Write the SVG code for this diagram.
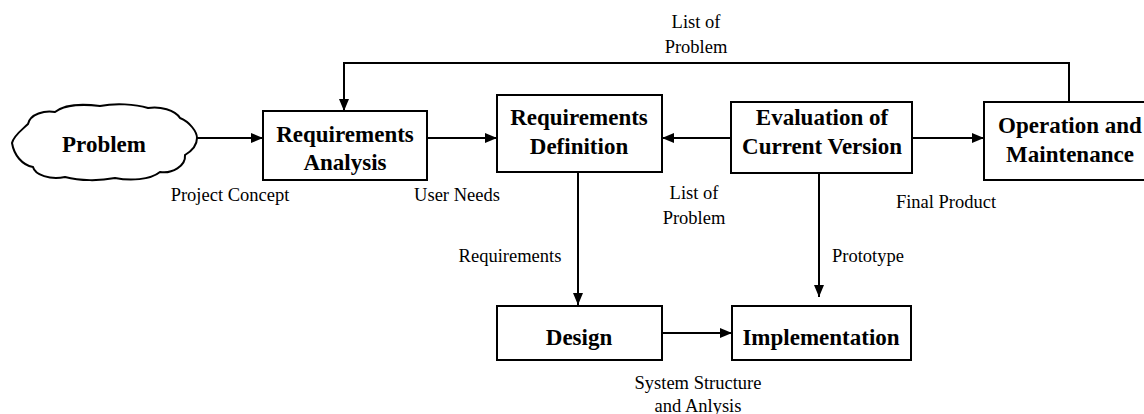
<svg xmlns="http://www.w3.org/2000/svg" width="1144" height="414" viewBox="0 0 1144 414">
<style>
.box{fill:#fff;stroke:#000;stroke-width:2}
.bt{font-family:"Liberation Serif","Times New Roman",serif;font-weight:bold;font-size:23px;fill:#000;text-anchor:middle}
.lt{font-family:"Liberation Serif","Times New Roman",serif;font-size:18.5px;fill:#000;text-anchor:middle}
.ln{fill:none;stroke:#000;stroke-width:2}
</style>
<defs>
<marker id="ah" viewBox="0 0 12 10" refX="12" refY="5" markerWidth="12" markerHeight="10" markerUnits="userSpaceOnUse" orient="auto">
<path d="M0 0 L12 5 L0 10 Z" fill="#000"/>
</marker>
</defs>
<rect width="1144" height="414" fill="#fff"/>
<g id="connectors">
<line class="ln" x1="197" y1="138" x2="263" y2="138" marker-end="url(#ah)"/>
<line class="ln" x1="427" y1="138" x2="497" y2="138" marker-end="url(#ah)"/>
<line class="ln" x1="731" y1="138" x2="662" y2="138" marker-end="url(#ah)"/>
<line class="ln" x1="912" y1="138" x2="984" y2="138" marker-end="url(#ah)"/>
<path class="ln" d="M1069 102 V63 H344 V111" marker-end="url(#ah)"/>
<line class="ln" x1="578" y1="172" x2="578" y2="305" marker-end="url(#ah)"/>
<line class="ln" x1="819" y1="173" x2="819" y2="297" marker-end="url(#ah)"/>
<line class="ln" x1="662" y1="333" x2="732" y2="333" marker-end="url(#ah)"/>
</g>
<g id="labels">
<text class="lt" x="696" y="28">List of</text>
<text class="lt" x="696" y="53">Problem</text>
<text class="lt" x="230" y="201">Project Concept</text>
<text class="lt" x="457" y="201">User Needs</text>
<text class="lt" x="694" y="199">List of</text>
<text class="lt" x="694" y="224">Problem</text>
<text class="lt" x="946" y="208">Final Product</text>
<text class="lt" x="510" y="262">Requirements</text>
<text class="lt" x="868" y="262">Prototype</text>
<text class="lt" x="698" y="389">System Structure</text>
<text class="lt" x="698" y="412">and Anlysis</text>
</g>
<g id="problem">
<path class="box" d="M12 143 C14 135,22 130,28 124 C30 114,45 110,55 112 C65 104,85 104,100 106 C115 103,135 104,148 108 C160 106,175 110,180 118 C190 122,197 132,197 138 C197 146,190 152,185 155 C186 166,172 174,160 172 C150 180,130 181,115 178 C100 181,80 181,65 177 C50 180,35 175,33 167 C22 165,14 155,12 143 Z"/>
<text class="bt" x="104" y="152">Problem</text>
</g>
<g id="req-analysis">
<rect class="box" x="263" y="111" width="164" height="69"/>
<text class="bt" x="345" y="142">Requirements</text>
<text class="bt" x="345" y="170">Analysis</text>
</g>
<g id="req-definition">
<rect class="box" x="497" y="95" width="165" height="77"/>
<text class="bt" x="579" y="125">Requirements</text>
<text class="bt" x="579" y="154">Definition</text>
</g>
<g id="evaluation">
<rect class="box" x="731" y="102" width="181" height="71"/>
<text class="bt" x="822" y="125">Evaluation of</text>
<text class="bt" x="822" y="154">Current Version</text>
</g>
<g id="operation">
<rect class="box" x="984" y="102" width="175" height="78"/>
<text class="bt" x="1070" y="133">Operation and</text>
<text class="bt" x="1070" y="162">Maintenance</text>
</g>
<g id="design">
<rect class="box" x="497" y="306" width="165" height="54"/>
<text class="bt" x="579" y="345">Design</text>
</g>
<g id="implementation">
<rect class="box" x="732" y="306" width="179" height="54"/>
<text class="bt" x="821" y="345">Implementation</text>
</g>
</svg>
